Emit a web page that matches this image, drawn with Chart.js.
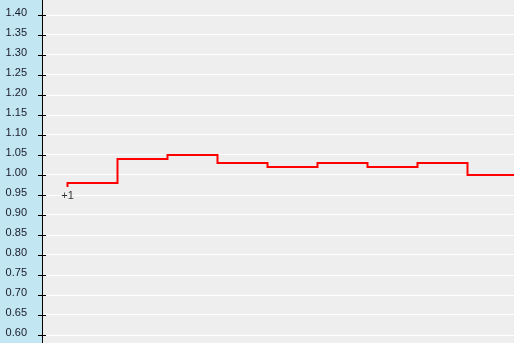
<!DOCTYPE html>
<html>
<head>
<meta charset="utf-8">
<script src="https://cdn.jsdelivr.net/npm/chart.js@4"></script>
<style>
  html, body { margin: 0; padding: 0; background: #eeeeee; }
  #wrap { width: 514px; height: 343px; }
</style>
</head>
<body>
<div id="wrap"><canvas id="stepChart" width="514" height="343"></canvas></div>
<script>
// ============================================
// DATA
// ============================================
const stepIndex = [0, 1, 2, 3, 4, 5, 6, 7, 8, 9];
const stepValues = [0.97, 0.98, 1.04, 1.05, 1.03, 1.02, 1.03, 1.02, 1.03, 1.00];
const yTickValues = [1.40, 1.35, 1.30, 1.25, 1.20, 1.15, 1.10, 1.05, 1.00, 0.95,
  0.90, 0.85, 0.80, 0.75, 0.70, 0.65, 0.60];
const yTickLabels = ['1.40', '1.35', '1.30', '1.25', '1.20', '1.15', '1.10', '1.05', '1.00', '0.95',
  '0.90', '0.85', '0.80', '0.75', '0.70', '0.65', '0.60'];
const startLabel = '+1';

// ============================================
// PLUGIN: panel, axis ticks + labels, start label
// ============================================
const decorPlugin = {
  id: 'decor',
  beforeDraw(chart) {
    const { ctx, chartArea } = chart;
    ctx.save();
    ctx.fillStyle = '#c2e6f2';
    ctx.fillRect(0, 0, chartArea.left, chart.height);
    ctx.fillStyle = '#eeeeee';
    ctx.fillRect(chartArea.left, 0, chart.width - chartArea.left, chart.height);
    ctx.restore();
  },
  afterDraw(chart) {
    const { ctx, chartArea } = chart;
    const yScale = chart.scales.y;
    const xScale = chart.scales.x;
    const axisX = chartArea.left;

    ctx.save();
    ctx.strokeStyle = '#000';
    ctx.lineWidth = 1;
    ctx.font = '11px "Liberation Sans", Arial, sans-serif';
    ctx.fillStyle = '#1a1a2a';
    ctx.textAlign = 'right';
    ctx.textBaseline = 'middle';
    yTickValues.forEach((v, i) => {
      const py = Math.round(yScale.getPixelForValue(v)) + 0.5;
      ctx.beginPath();
      ctx.moveTo(axisX - 4, py);
      ctx.lineTo(axisX + 4, py);
      ctx.stroke();
      ctx.fillText(yTickLabels[i], 27, py - 3);
    });

    // label under the first point
    const px = xScale.getPixelForValue(stepIndex[0]);
    const py = yScale.getPixelForValue(stepValues[0]);
    ctx.fillStyle = '#333';
    ctx.textAlign = 'center';
    ctx.textBaseline = 'top';
    ctx.fillText(startLabel, px, py + 3);
    ctx.restore();
  }
};

// ============================================
// CHART
// ============================================
const ctx = document.getElementById('stepChart').getContext('2d');
new Chart(ctx, {
  type: 'line',
  data: {
    datasets: [{
      data: stepIndex.map((x, i) => ({ x: x, y: stepValues[i] })),
      borderColor: '#ff0000',
      borderWidth: 2,
      stepped: 'after',
      pointRadius: 0,
      fill: false
    }]
  },
  options: {
    responsive: false,
    animation: false,
    layout: { padding: 0 },
    plugins: {
      legend: { display: false },
      tooltip: { enabled: false }
    },
    scales: {
      x: {
        type: 'linear',
        display: false,
        min: -0.51,
        max: 8.93
      },
      y: {
        min: 0.58,
        max: 1.4375,
        afterBuildTicks(scale) {
          scale.ticks = yTickValues.map(v => ({ value: v }));
        },
        afterFit(scale) {
          scale.width = 42;
        },
        border: { display: true, color: '#000', width: 1 },
        grid: {
          color: '#ffffff',
          lineWidth: 1,
          drawTicks: false
        },
        ticks: { display: false }
      }
    }
  },
  plugins: [decorPlugin]
});
</script>
</body>
</html>
